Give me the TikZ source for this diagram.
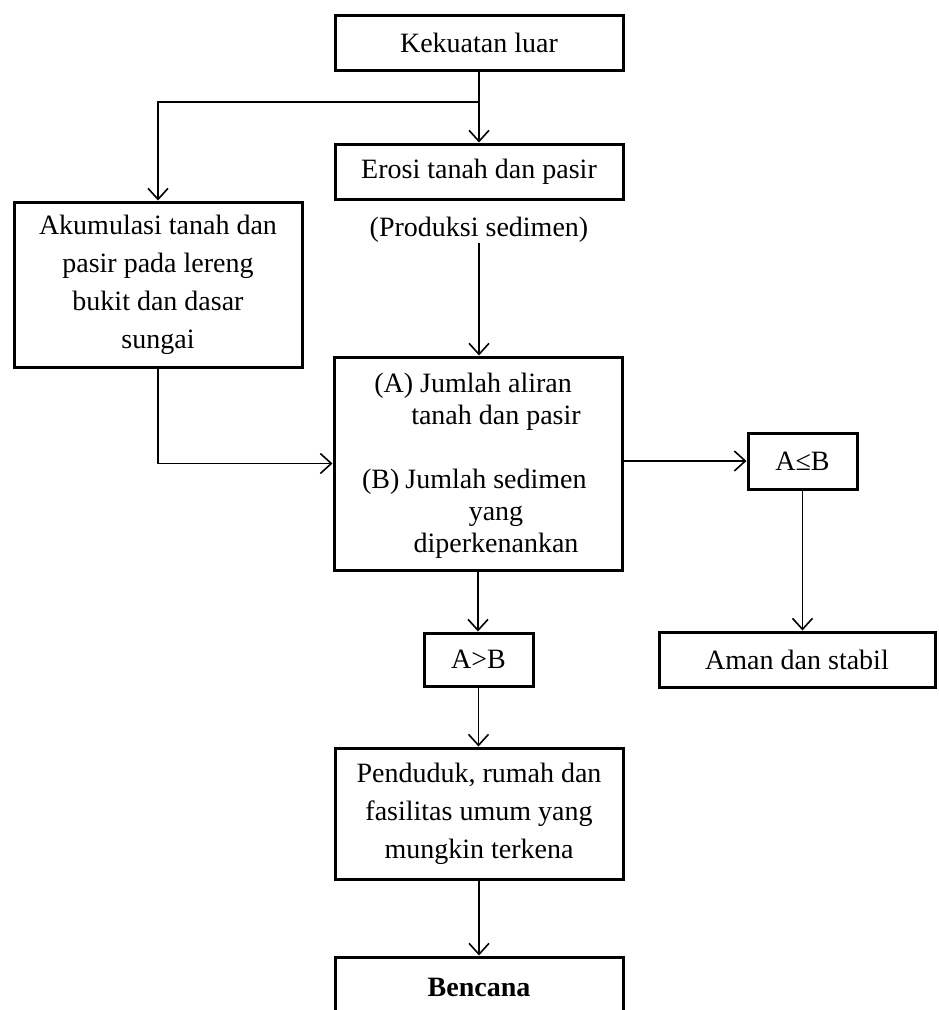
\documentclass[tikz,border=0pt]{standalone}
\usepackage{fontspec}
\setmainfont{Liberation Serif}
\usetikzlibrary{arrows.meta}
\begin{document}
\begin{tikzpicture}[x=1pt,y=-1pt,
  box/.style={draw, line width=3pt, minimum width=288pt, inner sep=0pt,
    font=\fontsize{28}{38}\selectfont, align=center},
  txt/.style={inner sep=0pt, font=\fontsize{28}{38}\selectfont, align=center},
  conn/.style={line width=1.6pt, -{Straight Barb[length=11pt,width=20pt,line width=1.6pt]}},
  plain/.style={line width=1.6pt}]
\useasboundingbox (0,0) rectangle (938,1010);
\node[box, minimum height=55pt] (kek) at (479,42.5) {Kekuatan luar};
\node[box, minimum height=55pt] (ero) at (479,171.5) {Erosi tanah dan pasir};
\node[txt] (prod) at (479,230) {(Produksi sedimen)};
\node[box, minimum height=165pt] (aku) at (158,284.5) {Akumulasi tanah dan\\pasir pada lereng\\bukit dan dasar\\sungai};
\node[box, minimum height=213pt] (jum) at (478,463.5) {};
\node[txt, font=\fontsize{28}{32}\selectfont] (jumtxt) at (496,466)
  {\llap{(A)\hspace{7pt}}Jumlah aliran\\tanah dan pasir\\[32pt]\llap{(B)\hspace{6pt}}Jumlah sedimen\\yang\\diperkenankan};
\node[box, minimum width=109pt, minimum height=56pt] (ale) at (802.5,461) {A≤B};
\node[box, minimum width=276pt, minimum height=55pt] (aman) at (797,659.5) {Aman dan stabil};
\node[box, minimum width=109pt, minimum height=53pt] (agb) at (478.5,659.5) {A>B};
\node[box, minimum height=131pt] (pen) at (479,813.5) {Penduduk, rumah dan\\fasilitas umum yang\\mungkin terkena};
\node[box, minimum height=60pt, font=\fontsize{28}{38}\selectfont\bfseries] (ben) at (479,987) {Bencana};
\coordinate (br) at (479,102);
\draw[conn] (kek.south) -- (ero.north);
\draw[conn] (br) -| (aku.north);
\draw[conn] (prod.south) -- (prod.south |- jum.north);
\draw[conn] (aku.south) |- (jum.west);
\draw[conn] (jum.east |- ale.west) -- (ale.west);
\draw[conn] (ale.south) -- (ale.south |- aman.north);
\draw[conn] (jum.south) -- (jum.south |- agb.north);
\draw[conn] (agb.south) -- (agb.south |- pen.north);
\draw[conn] (pen.south) -- (ben.north);
\end{tikzpicture}
\end{document}
